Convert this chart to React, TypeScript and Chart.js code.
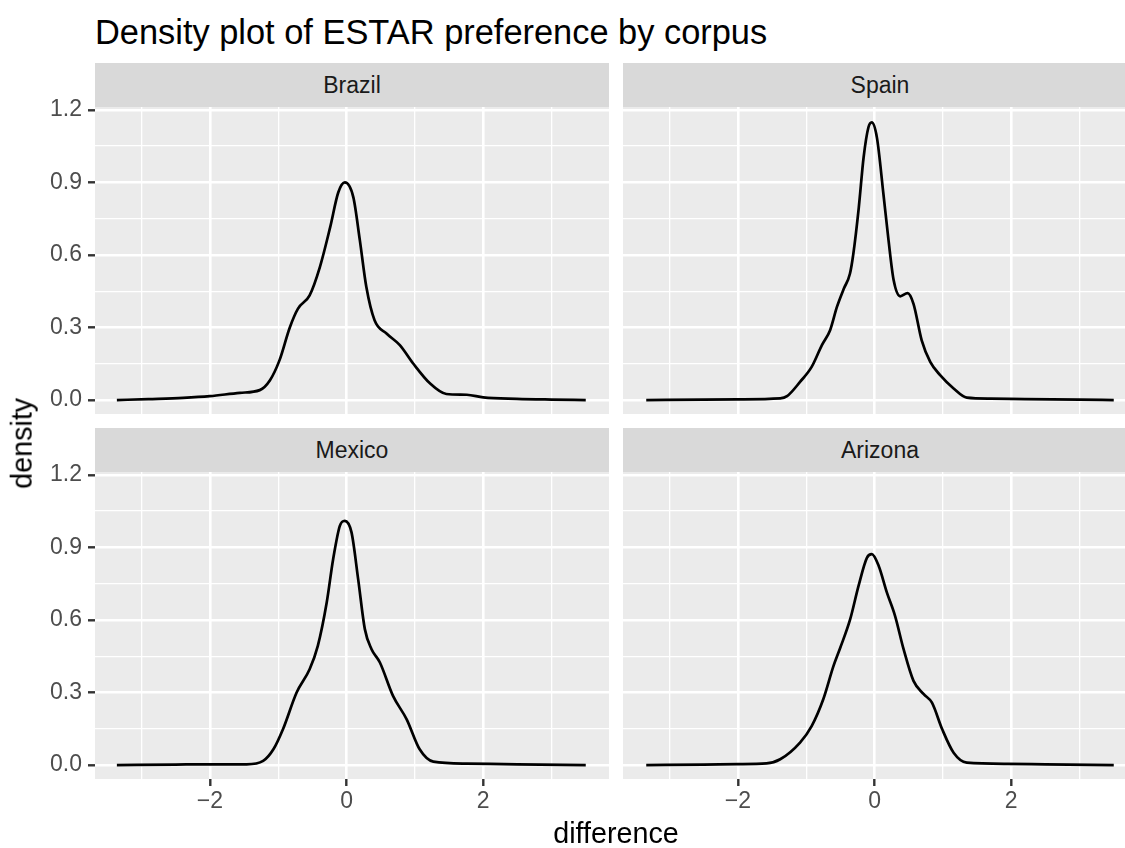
import React, { useEffect, useRef } from 'react';
import { Chart, registerables } from 'chart.js';

Chart.register(...registerables);

const FONT = '"Liberation Sans", Arial, Helvetica, sans-serif';

const chartTitle = 'Density plot of ESTAR preference by corpus';
const xAxisTitle = 'difference';
const yAxisTitle = 'density';
const corpora = ['Brazil', 'Spain', 'Mexico', 'Arizona'];

const brazilX = [-3.36, -2.9, -2.39, -2.0, -1.56, -1.27, -1.12, -0.98, -0.83, -0.71, -0.54, -0.39, -0.24, -0.12, -0.025, 0.1, 0.195, 0.29, 0.41, 0.585, 0.78, 0.975, 1.22, 1.46, 1.76, 2.0, 2.49, 3.0, 3.5];
const brazilY = [0.0, 0.004, 0.009, 0.016, 0.03, 0.041, 0.082, 0.165, 0.3, 0.378, 0.433, 0.55, 0.714, 0.859, 0.9, 0.838, 0.66, 0.467, 0.33, 0.275, 0.227, 0.151, 0.069, 0.025, 0.022, 0.011, 0.005, 0.002, 0.0];

const spainX = [-3.34, -2.5, -2.0, -1.38, -1.28, -1.09, -0.92, -0.77, -0.65, -0.55, -0.45, -0.36, -0.31, -0.23, -0.16, -0.09, -0.04, 0.035, 0.13, 0.205, 0.28, 0.376, 0.483, 0.57, 0.69, 0.815, 0.96, 1.157, 1.35, 1.7, 2.2, 3.0, 3.5];
const spainY = [0.0, 0.002, 0.003, 0.007, 0.016, 0.075, 0.137, 0.227, 0.289, 0.385, 0.46, 0.522, 0.605, 0.797, 1.003, 1.127, 1.148, 1.085, 0.852, 0.66, 0.495, 0.429, 0.442, 0.398, 0.247, 0.158, 0.103, 0.048, 0.01, 0.006, 0.004, 0.002, 0.0];

const mexicoX = [-3.36, -2.5, -2.0, -1.46, -1.22, -1.07, -0.93, -0.73, -0.54, -0.42, -0.29, -0.196, -0.098, -0.025, 0.073, 0.17, 0.268, 0.366, 0.488, 0.68, 0.88, 1.07, 1.27, 1.76, 2.5, 3.5];
const mexicoY = [0.0, 0.002, 0.003, 0.003, 0.017, 0.065, 0.148, 0.3, 0.396, 0.493, 0.672, 0.851, 0.989, 1.01, 0.962, 0.769, 0.562, 0.479, 0.424, 0.286, 0.189, 0.065, 0.014, 0.006, 0.003, 0.0];

const arizonaX = [-3.34, -2.5, -2.0, -1.58, -1.38, -1.09, -0.92, -0.75, -0.6, -0.5, -0.356, -0.234, -0.11, -0.04, 0.06, 0.18, 0.3, 0.425, 0.57, 0.72, 0.84, 0.99, 1.157, 1.35, 1.95, 2.5, 3.5];
const arizonaY = [0.0, 0.002, 0.004, 0.007, 0.024, 0.093, 0.161, 0.272, 0.41, 0.486, 0.603, 0.741, 0.858, 0.872, 0.824, 0.714, 0.617, 0.479, 0.348, 0.293, 0.258, 0.148, 0.051, 0.01, 0.005, 0.003, 0.0];

const xTicks = [-3, -2, -1, 0, 1, 2, 3];
const xTickLabels = ['', '\u22122', '', '0', '', '2', ''];
const yTicks = [0, 0.15, 0.3, 0.45, 0.6, 0.75, 0.9, 1.05, 1.2];
const yTickLabels = ['0.0', '', '0.3', '', '0.6', '', '0.9', '', '1.2'];

const X_MIN = -3.68;
const X_MAX = 3.84;
const Y_MIN = -0.0577;
const Y_MAX = 1.2117;

const PANEL_W = 514;
const PANEL_H = 307;
const PAD_TOP = 20;
const Y_AXIS_W = 95;
const X_AXIS_H = 50;
const TICK_FONT_SIZE = 23;
const STRIP_FONT_SIZE = 23;
const AXIS_TITLE_SIZE = 28.7;
const TITLE_SIZE = 34.4;

const bgPlugin = {
  id: 'panelBg',
  beforeDraw(chart: any) {
    const { ctx, chartArea } = chart;
    ctx.save();
    ctx.fillStyle = '#EBEBEB';
    ctx.fillRect(chartArea.left, chartArea.top, chartArea.right - chartArea.left, chartArea.bottom - chartArea.top);
    ctx.restore();
  },
};

type PanelProps = { left: number; top: number; xs: number[]; ys: number[]; showY: boolean; showX: boolean };

function Panel({ left, top, xs, ys, showY, showX }: PanelProps) {
  const ref = useRef<HTMLCanvasElement>(null);
  const width = (showY ? Y_AXIS_W : 0) + PANEL_W;
  const height = PAD_TOP + PANEL_H + (showX ? X_AXIS_H : 0);
  useEffect(() => {
    if (!ref.current) return;
    const tickFont = { family: FONT, size: TICK_FONT_SIZE };
    const chart = new Chart(ref.current, {
      type: 'line',
      data: {
        datasets: [
          {
            data: xs.map((x, i) => ({ x, y: ys[i] })),
            borderColor: '#000000',
            borderWidth: 2.7,
            pointRadius: 0,
            fill: false,
            cubicInterpolationMode: 'monotone',
          },
        ],
      },
      options: {
        animation: false,
        responsive: false,
        devicePixelRatio: 1,
        events: [],
        layout: { padding: { top: PAD_TOP, left: 0, right: 0, bottom: 0 } },
        plugins: { legend: { display: false }, tooltip: { enabled: false }, title: { display: false } },
        scales: {
          x: {
            type: 'linear',
            min: X_MIN,
            max: X_MAX,
            afterBuildTicks: (s: any) => {
              s.ticks = xTicks.map((v) => ({ value: v }));
            },
            afterFit: (s: any) => {
              s.height = showX ? X_AXIS_H : 0;
              s.paddingLeft = 0;
              s.paddingRight = 0;
            },
            ticks: {
              display: showX,
              autoSkip: false,
              maxRotation: 0,
              padding: 2,
              font: tickFont,
              color: '#4D4D4D',
              callback: (_v: any, i: number) => xTickLabels[i],
            },
            grid: {
              color: '#FFFFFF',
              lineWidth: (c: any) => (xTickLabels[c.index] ? 2.6 : 1.3),
              drawTicks: showX,
              tickLength: 7,
              tickWidth: 2.4,
              tickColor: (c: any) => (xTickLabels[c.index] ? '#333333' : 'rgba(0,0,0,0)'),
            },
            border: { display: false },
          },
          y: {
            type: 'linear',
            min: Y_MIN,
            max: Y_MAX,
            afterBuildTicks: (s: any) => {
              s.ticks = yTicks.map((v) => ({ value: v }));
            },
            afterFit: (s: any) => {
              s.width = showY ? Y_AXIS_W : 0;
              s.paddingTop = 0;
              s.paddingBottom = 0;
            },
            ticks: {
              display: showY,
              autoSkip: false,
              padding: 6,
              font: tickFont,
              color: '#4D4D4D',
              callback: (_v: any, i: number) => yTickLabels[i],
            },
            grid: {
              color: '#FFFFFF',
              lineWidth: (c: any) => (yTickLabels[c.index] ? 2.6 : 1.3),
              drawTicks: showY,
              tickLength: 7,
              tickWidth: 2.4,
              tickColor: (c: any) => (yTickLabels[c.index] ? '#333333' : 'rgba(0,0,0,0)'),
            },
            border: { display: false },
          },
        },
      } as any,
      plugins: [bgPlugin],
    });
    return () => chart.destroy();
  }, []);
  return (
    <canvas
      ref={ref}
      width={width}
      height={height}
      style={{ position: 'absolute', left, top, width, height, display: 'block' }}
    />
  );
}

function Strip({ left, top, label }: { left: number; top: number; label: string }) {
  return (
    <div
      style={{
        position: 'absolute',
        left,
        top,
        width: PANEL_W,
        height: 44,
        background: '#D9D9D9',
        color: '#1A1A1A',
        fontFamily: FONT,
        fontSize: STRIP_FONT_SIZE,
        display: 'flex',
        alignItems: 'center',
        justifyContent: 'center',
      }}
    >
      {label}
    </div>
  );
}

export default function App() {
  useEffect(() => {
    document.body.style.margin = '0';
  }, []);
  const leftX = 95;
  const rightX = 623;
  const row1 = 107;
  const row2 = 472;
  return (
    <div
      style={{
        position: 'absolute',
        left: 0,
        top: 0,
        width: 1125,
        height: 848,
        overflow: 'hidden',
        background: '#FFFFFF',
        fontFamily: FONT,
      }}
    >
      <div
        style={{
          position: 'absolute',
          left: 95,
          top: 15,
          fontSize: TITLE_SIZE,
          lineHeight: TITLE_SIZE + 'px',
          color: '#000000',
          whiteSpace: 'nowrap',
        }}
      >
        {chartTitle}
      </div>
      <Strip left={leftX} top={63} label={corpora[0]} />
      <Strip left={rightX} top={63} label={corpora[1]} />
      <Strip left={leftX} top={428} label={corpora[2]} />
      <Strip left={rightX} top={428} label={corpora[3]} />
      <Panel left={0} top={row1 - PAD_TOP} xs={brazilX} ys={brazilY} showY={true} showX={false} />
      <Panel left={rightX} top={row1 - PAD_TOP} xs={spainX} ys={spainY} showY={false} showX={false} />
      <Panel left={0} top={row2 - PAD_TOP} xs={mexicoX} ys={mexicoY} showY={true} showX={true} />
      <Panel left={rightX} top={row2 - PAD_TOP} xs={arizonaX} ys={arizonaY} showY={false} showX={true} />
      <div
        style={{
          position: 'absolute',
          left: 0,
          width: 1232,
          top: 818.7,
          fontSize: AXIS_TITLE_SIZE,
          lineHeight: AXIS_TITLE_SIZE + 'px',
          textAlign: 'center',
          color: '#000000',
          whiteSpace: 'nowrap',
        }}
      >
        {xAxisTitle}
      </div>
      <div
        style={{
          position: 'absolute',
          left: 21.5 - 60,
          top: 443 - AXIS_TITLE_SIZE / 2,
          width: 120,
          height: AXIS_TITLE_SIZE,
          fontSize: AXIS_TITLE_SIZE,
          lineHeight: AXIS_TITLE_SIZE + 'px',
          textAlign: 'center',
          color: '#000000',
          transform: 'rotate(-90deg)',
          transformOrigin: '50% 50%',
          whiteSpace: 'nowrap',
        }}
      >
        {yAxisTitle}
      </div>
    </div>
  );
}
